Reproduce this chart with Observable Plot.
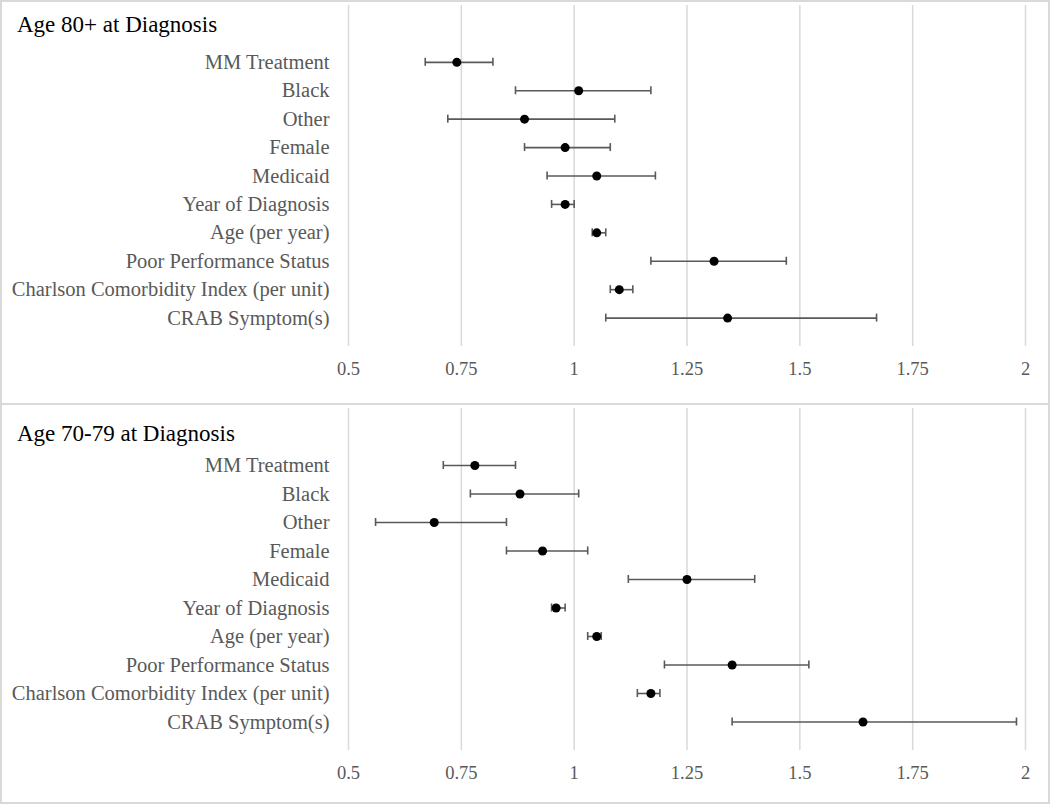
<!DOCTYPE html>
<html>
<head>
<meta charset="utf-8">
<script src="https://cdn.jsdelivr.net/npm/d3@7"></script>
<script src="https://cdn.jsdelivr.net/npm/@observablehq/plot@0.6"></script>
<style>
  html, body { margin: 0; padding: 0; background: #fff; }
  #wrap { width: 1046px; border: 2px solid #d9d9d9; background: #fff; }
  .panel { position: relative; overflow: hidden; }
  .panel + .panel { border-top: 2px solid #d9d9d9; }
  .title { position: absolute; left: 15px; font-family: "Liberation Serif", "Times New Roman", serif; font-size: 23px; line-height: 24px; color: #000; white-space: nowrap; }
  svg { display: block; }
  svg g[aria-label^="x-axis"] text { font-size: 18.5px; }
  svg g[aria-label^="y-axis"] text { font-size: 20.5px; }
</style>
</head>
<body>
<div id="wrap">
  <div class="panel" id="p1" style="height:401px"><div class="title" style="top:11px">Age 80+ at Diagnosis</div></div>
  <div class="panel" id="p2" style="height:397px"><div class="title" style="top:17px">Age 70-79 at Diagnosis</div></div>
</div>
<script>
const categories = ["MM Treatment", "Black", "Other", "Female", "Medicaid", "Year of Diagnosis", "Age (per year)", "Poor Performance Status", "Charlson Comorbidity Index (per unit)", "CRAB Symptom(s)"];

// Age 80+ at diagnosis
const hr80 = [0.74, 1.01, 0.89, 0.98, 1.05, 0.98, 1.05, 1.31, 1.10, 1.34];
const lo80 = [0.67, 0.87, 0.72, 0.89, 0.94, 0.95, 1.04, 1.17, 1.08, 1.07];
const hi80 = [0.82, 1.17, 1.09, 1.08, 1.18, 1.00, 1.07, 1.47, 1.13, 1.67];

// Age 70-79 at diagnosis
const hr70 = [0.78, 0.88, 0.69, 0.93, 1.25, 0.96, 1.05, 1.35, 1.17, 1.64];
const lo70 = [0.71, 0.77, 0.56, 0.85, 1.12, 0.95, 1.03, 1.20, 1.14, 1.35];
const hi70 = [0.87, 1.01, 0.85, 1.03, 1.40, 0.98, 1.06, 1.52, 1.19, 1.98];

const xTicks = [0.5, 0.75, 1, 1.25, 1.5, 1.75, 2];
const xTickLabels = ["0.5", "0.75", "1", "1.25", "1.5", "1.75", "2"];

function panel(hr, lo, hi, height, marginBottom) {
  const rows = categories.map((c, i) => ({cat: c, idx: i, hr: hr[i], lo: lo[i], hi: hi[i]}));
  return Plot.plot({
    width: 1046,
    height,
    marginLeft: 346,
    marginRight: 23,
    marginTop: 3,
    marginBottom,
    style: {fontFamily: "'Liberation Serif', 'Times New Roman', serif", fontSize: "20px", color: "#595959", background: "#fff", overflow: "visible"},
    x: {domain: [0.5, 2], ticks: xTicks, tickFormat: (d) => xTickLabels[xTicks.indexOf(d)], tickSize: 0, tickPadding: 15, label: null},
    y: {domain: [10, -2], ticks: categories.map((c, i) => i), tickFormat: (i) => categories[i], tickSize: 0, tickPadding: 19, label: null},
    marks: [
      Plot.ruleX(xTicks, {stroke: "#d9d9d9", strokeWidth: 1.5, strokeOpacity: 1}),
      Plot.link(rows, {x1: "lo", x2: "hi", y1: "idx", y2: "idx", stroke: "#595959", strokeWidth: 1.6}),
      Plot.ruleX(rows, {x: "lo", y1: "idx", y2: "idx", insetTop: -4, insetBottom: -4, stroke: "#595959", strokeWidth: 1.6}),
      Plot.ruleX(rows, {x: "hi", y1: "idx", y2: "idx", insetTop: -4, insetBottom: -4, stroke: "#595959", strokeWidth: 1.6}),
      Plot.dot(rows, {x: "hr", y: "idx", r: 4.5, fill: "#000", stroke: "none"})
    ]
  });
}

document.getElementById("p1").appendChild(panel(hr80, lo80, hi80, 401, 57));
document.getElementById("p2").appendChild(panel(hr70, lo70, hi70, 397, 52));
</script>
</body>
</html>
